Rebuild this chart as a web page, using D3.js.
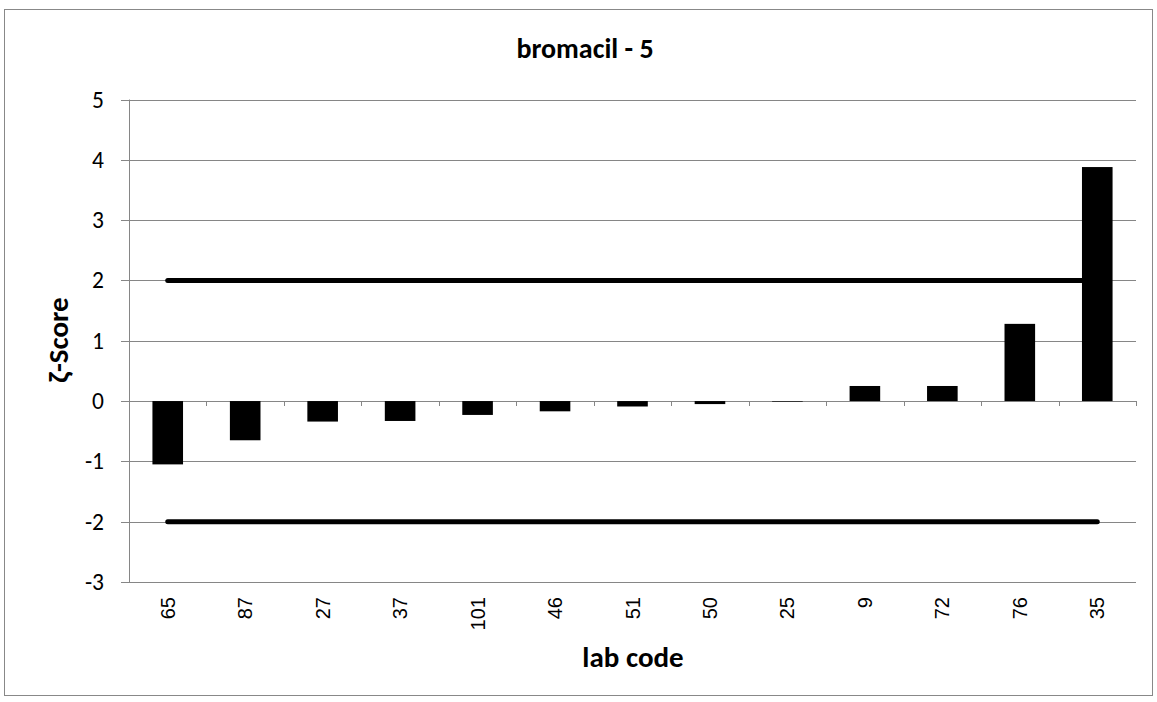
<!DOCTYPE html>
<html><head><meta charset="utf-8">
<script src="https://cdn.jsdelivr.net/npm/d3@7"></script>
<style>body{margin:0;background:#fff}svg{display:block}</style>
</head><body>
<script>
const labs = ["65","87","27","37","101","46","51","50","25","9","72","76","35"];
const zScores = [-1.05,-0.65,-0.34,-0.33,-0.23,-0.17,-0.09,-0.05,-0.01,0.25,0.25,1.28,3.88];
const limits = [2,-2];
const yTicks = [-3,-2,-1,0,1,2,3,4,5];
const title = "bromacil - 5";
const xTitle = "lab code";
const yTitle = "ζ-Score";

const W = 1157, H = 702;
const L = 129, R = 1136, T = 99.5, B = 582;
const svg = d3.select("body").append("svg").attr("width", W).attr("height", H);
svg.append("rect").attr("x",4.5).attr("y",9.5).attr("width",1148).attr("height",686)
  .attr("fill","#fff").attr("stroke","#888").attr("stroke-width",1);

const x = d3.scaleBand().domain(labs).range([L, R]).padding(0);
const y = d3.scaleLinear().domain([-3, 5]).range([B, T]);
const grid = "#868686";
const calibri = "Carlito, Lato, 'Open Sans', sans-serif";

// gridlines
svg.append("g").selectAll("line").data(yTicks).join("line")
  .attr("x1", L - 8).attr("x2", R)
  .attr("y1", d => Math.round(y(d)) + 0.5).attr("y2", d => Math.round(y(d)) + 0.5)
  .attr("stroke", grid).attr("stroke-width", 1);
// y axis line
svg.append("line").attr("x1", L + 0.5).attr("x2", L + 0.5).attr("y1", T).attr("y2", B)
  .attr("stroke", grid);
// y tick labels
svg.append("g").selectAll("text").data(yTicks).join("text")
  .attr("x", 104).attr("y", d => y(d) + 8).attr("text-anchor", "end")
  .attr("font-family", calibri).attr("font-size", 23.5).attr("fill", "#000")
  .text(d => d);

// bars
const bw = x.bandwidth() * 0.395;
svg.append("g").selectAll("rect").data(labs).join("rect")
  .attr("x", d => x(d) + x.bandwidth() / 2 - bw / 2)
  .attr("width", bw)
  .attr("y", (d, i) => y(Math.max(0, zScores[i])))
  .attr("height", (d, i) => Math.abs(y(zScores[i]) - y(0)))
  .attr("fill", "#000");

// x-axis tick marks at zero line
const tickXs = labs.map(d => x(d)).concat([R]);
svg.append("g").selectAll("line").data(tickXs).join("line")
  .attr("x1", d => Math.round(d) + 0.5).attr("x2", d => Math.round(d) + 0.5)
  .attr("y1", Math.round(y(0))).attr("y2", Math.round(y(0)) + 5)
  .attr("stroke", grid);

// limit lines
const x0 = x(labs[0]) + x.bandwidth() / 2, x1 = x(labs[labs.length - 1]) + x.bandwidth() / 2;
svg.append("g").selectAll("line").data(limits).join("line")
  .attr("x1", x0).attr("x2", x1).attr("y1", d => y(d)).attr("y2", d => y(d))
  .attr("stroke", "#000").attr("stroke-width", 5).attr("stroke-linecap", "round");

// x tick labels (rotated)
svg.append("g").selectAll("text").data(labs).join("text")
  .attr("transform", d => `translate(${x(d) + x.bandwidth() / 2 + 7},597) rotate(-90)`)
  .attr("text-anchor", "end")
  .attr("font-family", "'Liberation Sans', Arial, sans-serif").attr("font-size", 20)
  .attr("fill", "#000").text(d => d);

// titles
svg.append("text").attr("x", 585).attr("y", 58).attr("text-anchor", "middle")
  .attr("font-family", calibri).attr("font-weight", "bold").attr("font-size", 28)
  .text(title);
svg.append("text").attr("x", 633).attr("y", 667).attr("text-anchor", "middle")
  .attr("font-family", calibri).attr("font-weight", "bold").attr("font-size", 29)
  .text(xTitle);
svg.append("text").attr("transform", "translate(68,340) rotate(-90)").attr("text-anchor", "middle")
  .attr("font-family", calibri).attr("font-weight", "bold").attr("font-size", 29)
  .text(yTitle);
</script>
</body></html>
